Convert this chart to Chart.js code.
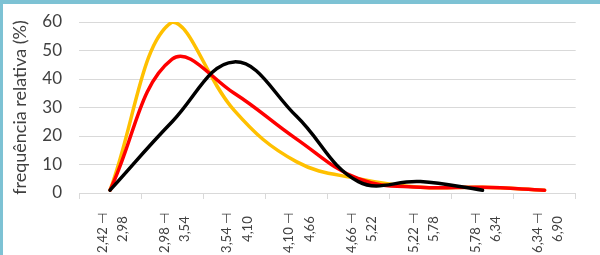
<!DOCTYPE html>
<html>
<head>
<meta charset="utf-8">
<script src="https://cdn.jsdelivr.net/npm/chart.js@4"></script>
<style>
  html, body { margin: 0; padding: 0; background: #fff; }
  #wrap { position: relative; width: 600px; height: 255px; overflow: hidden; }
  #topBorder { position: absolute; left: 0; top: 0; width: 600px; height: 4px; background: #7dc2d4; }
  #leftBorder { position: absolute; left: 0; top: 0; width: 3px; height: 255px; background: #7dc2d4; }
  canvas { position: absolute; left: 0; top: 0; }
</style>
</head>
<body>
<div id="wrap">
  <canvas id="chart" width="600" height="255"></canvas>
  <div id="topBorder"></div>
  <div id="leftBorder"></div>
</div>
<script>
// class limits (lower / upper)
const lowerLimits = ['2,42', '2,98', '3,54', '4,10', '4,66', '5,22', '5,78', '6,34'];
const upperLimits = ['2,98', '3,54', '4,10', '4,66', '5,22', '5,78', '6,34', '6,90'];

// relative frequency (%) per class
const blackSeries  = [1, 25, 46, 27, 4, 4, 1, null];
const redSeries    = [1, 47, 35, 19, 5, 2, 2, 1];
const yellowSeries = [1, 60, 29, 11, 5, 2, 2, 1];

const yTicks = [0, 10, 20, 30, 40, 50, 60];

// two-line labels: "2,42 ⊣" / "2,98"
const labels = lowerLimits.map((lo, i) => [lo + ' \u22A3', upperLimits[i] + ' ']);

const ctx = document.getElementById('chart').getContext('2d');
const chart = new Chart(ctx, {
  type: 'line',
  data: {
    labels: labels,
    datasets: [
      { label: 'serie 3', data: blackSeries,  borderColor: '#000000' },
      { label: 'serie 2', data: redSeries,    borderColor: '#ff0000' },
      { label: 'serie 1', data: yellowSeries, borderColor: '#ffc000' }
    ]
  },
  options: {
    responsive: false,
    animation: false,
    spanGaps: false,
    layout: { padding: { top: 22, right: 17, left: 0, bottom: 0 } },
    elements: {
      line: { borderWidth: 3.5, tension: 0.4, fill: false, borderCapStyle: 'round', borderJoinStyle: 'round' },
      point: { radius: 0, hoverRadius: 0 }
    },
    plugins: {
      legend: { display: false },
      tooltip: { enabled: false }
    },
    scales: {
      x: {
        offset: true,
        grid: { offset: true, drawOnChartArea: false, drawTicks: true, tickLength: 6, color: '#d9d9d9' },
        border: { display: true, color: '#d9d9d9' },
        ticks: {
          maxRotation: 90,
          minRotation: 90,
          autoSkip: false,
          padding: 14,
          labelOffset: -7,
          color: '#404040',
          font: { family: 'Lato', size: 13, lineHeight: 1.55 }
        },
        afterFit: (scale) => { scale.height = 62; }
      },
      y: {
        min: 0,
        max: 60,
        afterBuildTicks: (scale) => { scale.ticks = yTicks.map(v => ({ value: v })); },
        // invisible tick marks give the gap between labels and plot
        grid: { drawTicks: true, tickLength: 12, tickColor: 'rgba(0,0,0,0)', color: '#d9d9d9' },
        border: { display: false },
        ticks: {
          padding: 5,
          color: '#404040',
          font: { family: 'Lato', size: 17 }
        },
        title: {
          display: true,
          text: 'frequência relativa (%)',
          color: '#404040',
          font: { family: 'Lato', size: 18 },
          padding: { top: 9, bottom: 0 }
        },
        afterFit: (scale) => { scale.width = 79; }
      }
    }
  }
});
</script>
</body>
</html>
